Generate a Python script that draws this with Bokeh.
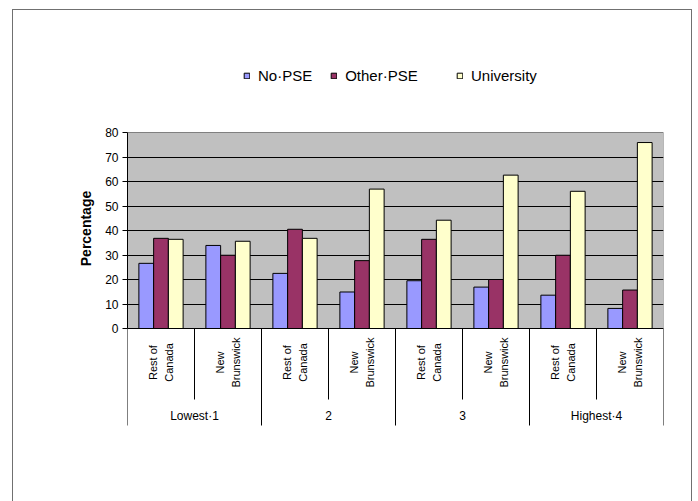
import math
from bokeh.plotting import figure
from bokeh.models import (ColumnDataSource, Range1d, FixedTicker, Legend, LegendItem,
                          InlineStyleSheet)
from bokeh.core.properties import value
from bokeh.embed import file_html
from bokeh.resources import INLINE

# ---------------- data ----------------
groups = ["Lowest·1", "2", "3", "Highest·4"]
regions = ["Rest of\nCanada", "New\nBrunswick"]
series_names = ["No·PSE", "Other·PSE", "University"]
no_pse = [26.6, 33.9, 22.5, 14.9, 19.5, 16.9, 13.6, 8.2]
other_pse = [36.8, 29.9, 40.5, 27.7, 36.4, 20.0, 29.9, 15.7]
university = [36.4, 35.6, 36.8, 56.9, 44.2, 62.6, 56.0, 75.9]
y_ticks = [0, 10, 20, 30, 40, 50, 60, 70, 80]
colors = ["#9999FF", "#993366", "#FFFFCC"]

# ---------------- layout (pixels) ----------------
W, H = 698, 501
FL, FR = 127, 663          # plot area left / right
PT, PB = 132, 328          # plot area top / bottom (value 80 / value 0)
FRAME_BOTTOM = 456         # bottom of the drawing frame
n_cat = len(groups) * len(regions)
y_max = y_ticks[-1]
ppu = (PB - PT) / y_max     # pixels per value unit


def px_y(py):
    """value-coordinate of a pixel row"""
    return (PB - py) / ppu


FONT = "Liberation Sans"

p = figure(width=W, height=H, output_backend="svg", toolbar_location=None,
           x_range=Range1d(0, n_cat),
           y_range=Range1d(px_y(FRAME_BOTTOM), px_y(0)),
           min_border_left=FL, min_border_right=W - FR,
           min_border_top=0, min_border_bottom=H - FRAME_BOTTOM)

p.background_fill_color = "white"
p.border_fill_color = "white"
p.outline_line_color = None
p.xaxis.visible = False
p.xgrid.visible = False

# grey plot area
p.quad(left=[0], right=[n_cat], bottom=[y_ticks[0]], top=[y_max],
       fill_color="#C0C0C0", line_color="#808080", line_width=1, level="underlay")

# horizontal gridlines
p.ygrid.ticker = FixedTicker(ticks=y_ticks[1:-1])
p.ygrid.grid_line_color = "black"
p.ygrid.grid_line_width = 1

# y axis
yax = p.yaxis[0]
yax.bounds = (y_ticks[0], y_max)
yax.ticker = FixedTicker(ticks=y_ticks, minor_ticks=[])
yax.axis_line_color = "black"
yax.major_tick_line_color = "black"
yax.major_tick_out = 5
yax.major_tick_in = 0
yax.minor_tick_out = 0
yax.minor_tick_in = 0
yax.major_label_text_font = FONT
yax.major_label_text_font_size = "12px"
yax.major_label_text_color = "black"
yax.major_label_standoff = 4
yax.axis_label = "Percentage"
yax.axis_label_text_font = FONT
yax.axis_label_text_font_size = "14px"
yax.axis_label_text_font_style = "bold"
yax.axis_label_text_color = "black"
yax.axis_label_standoff = 8

# bars
centers = [i + 0.5 for i in range(n_cat)]
bar_w = 0.22
offsets = [-bar_w, 0.0, bar_w]
renderers = []
for vals, col, off in zip([no_pse, other_pse, university], colors, offsets):
    src = ColumnDataSource(dict(x=[c + off for c in centers], top=vals))
    r = p.vbar(x="x", top="top", bottom=0, width=bar_w, source=src,
               fill_color=col, line_color="black", line_width=1)
    renderers.append(r)

# category axis line and separators (long between groups, short within)
bounds_x = list(range(n_cat + 1))
p.segment(x0=[0], y0=[0], x1=[n_cat], y1=[0], line_color="black", line_width=1)
p.segment(x0=bounds_x, y0=[0] * len(bounds_x), x1=bounds_x,
          y1=[px_y(425) if b % len(regions) == 0 else px_y(399) for b in bounds_x],
          line_color="black", line_width=1)

# sub-category labels (rotated, two lines)
p.text(x=centers, y=[px_y(362)] * n_cat,
       text=[regions[i % len(regions)] for i in range(n_cat)],
       angle=math.pi / 2, text_align="center", text_baseline="middle",
       text_font=value(FONT), text_font_size="11px", text_color="black",
       text_line_height=1.35)

# group labels
p.text(x=[g * len(regions) + len(regions) / 2 for g in range(len(groups))],
       y=[px_y(415)] * len(groups), text=groups,
       text_align="center", text_baseline="middle",
       text_font=value(FONT), text_font_size="12px", text_color="black")


# legend
def make_legend(items, left_px):
    return Legend(items=items, location=(left_px - FL, FRAME_BOTTOM - 84),
                  orientation="horizontal",
                  glyph_width=7, glyph_height=7, label_standoff=8, spacing=18,
                  padding=0, margin=0, border_line_alpha=0, background_fill_alpha=0,
                  label_text_font=FONT, label_text_font_size="15px",
                  label_text_color="black", label_height=7)


p.add_layout(make_legend([LegendItem(label=series_names[0], renderers=[renderers[0]]),
                          LegendItem(label=series_names[1], renderers=[renderers[1]])], 243))
p.add_layout(make_legend([LegendItem(label=series_names[2], renderers=[renderers[2]])], 456))

# outer chart border (page decoration)
p.stylesheets = [InlineStyleSheet(css=""":host::after {
  content: ""; position: absolute; left: 12px; top: 9px; right: 6px; bottom: 0px;
  border: 1px solid #707070; border-bottom: none; pointer-events: none; z-index: 10;
}""")]

open("out.html", "w").write(file_html(p, INLINE))
